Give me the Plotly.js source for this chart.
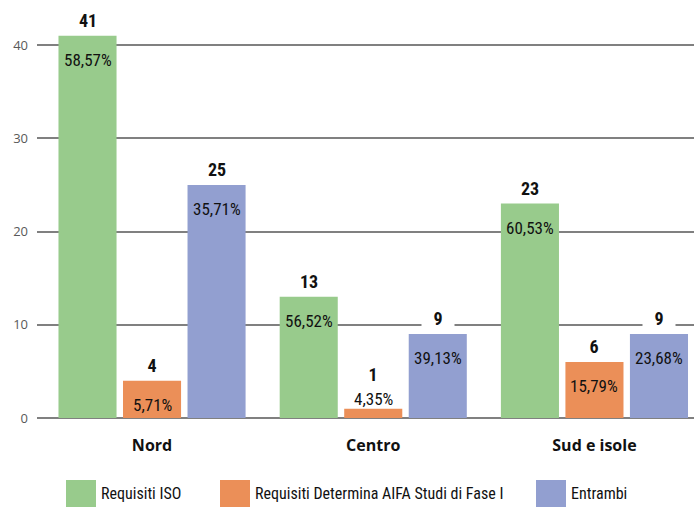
<!DOCTYPE html>
<html>
<head>
<meta charset="utf-8">
<script src="https://cdn.plot.ly/plotly-3.0.1.min.js"></script>
<style>html,body{margin:0;padding:0;background:#fff;}#chart{width:694px;height:507px;}</style>
</head>
<body>
<div id="chart"></div>
<script>
// ---- data ----
const categories = ["Nord", "Centro", "Sud e isole"];
const seriesNames = ["Requisiti ISO", "Requisiti Determina AIFA Studi di Fase I", "Entrambi"];
const isoValues = [41, 13, 23];
const aifaValues = [4, 1, 6];
const entrambiValues = [25, 9, 9];
const isoPct = ["58,57%", "56,52%", "60,53%"];
const aifaPct = ["5,71%", "4,35%", "15,79%"];
const entrambiPct = ["35,71%", "39,13%", "23,68%"];
const yTicks = [0, 10, 20, 30, 40];

// ---- style ----
const colors = ["#98CB8C", "#EB8F58", "#929FD0"];
const narrow = "Roboto Condensed";
const W = 694, H = 507;
const M = {l: 37, r: 0, t: 0, b: 89};
const yMax = 44.83;
const bargap = 0.125;
const plotH = H - M.t - M.b, plotW = W - M.l - M.r;
const pxPerUnit = plotH / yMax;

const values = [isoValues, aifaValues, entrambiValues];
const pcts = [isoPct, aifaPct, entrambiPct];

const traces = values.map((v, i) => ({
  type: "bar",
  name: seriesNames[i],
  x: categories,
  y: v,
  marker: {color: colors[i], line: {width: 0}},
  showlegend: false,
  hoverinfo: "x+y+name"
}));

const annotations = [];
const slot = (1 - bargap) / 3;
values.forEach((v, i) => {
  v.forEach((val, j) => {
    const xPos = j + (i - 1) * slot;
    const small = val * pxPerUnit < 20;
    annotations.push({
      x: xPos, y: val, xref: "x", yref: "y",
      text: pcts[i][j], showarrow: false,
      yanchor: "middle", yshift: small ? 10 : -24,
      font: {family: narrow, size: 17, color: "#111"}
    });
    annotations.push({
      x: xPos, y: val, xref: "x", yref: "y",
      text: "<b>" + val + "</b>", showarrow: false,
      yanchor: "middle", yshift: small ? 35 : 16,
      width: 30, height: 20, bgcolor: "#ffffff",
      font: {family: narrow, size: 18, color: "#111"}
    });
  });
});

// custom legend (large swatches)
const px2x = px => (px - M.l) / plotW;
const py2y = py => (H - M.b - py) / plotH;
const swatchLeft = [66, 220, 536];
const shapes = [];
seriesNames.forEach((name, i) => {
  shapes.push({
    type: "rect", xref: "paper", yref: "paper",
    x0: px2x(swatchLeft[i]), x1: px2x(swatchLeft[i] + 30),
    y0: py2y(508), y1: py2y(480),
    fillcolor: colors[i], line: {width: 0}
  });
  annotations.push({
    xref: "paper", yref: "paper",
    x: px2x(swatchLeft[i] + 33), y: py2y(493),
    xanchor: "left", yanchor: "middle",
    text: name, showarrow: false,
    font: {family: narrow, size: 16, color: "#111"}
  });
});

const layout = {
  width: W, height: H,
  margin: M,
  paper_bgcolor: "#fff", plot_bgcolor: "#fff",
  barmode: "group", bargap: bargap, bargroupgap: 0.1,
  showlegend: false,
  xaxis: {
    type: "category",
    range: [-0.52, 2.45],
    showgrid: false, zeroline: false, showline: false,
    ticks: "", ticklabelstandoff: 16,
    tickfont: {family: "Open Sans", size: 16, color: "#111", weight: "bold"},
    fixedrange: true
  },
  yaxis: {
    range: [0, yMax],
    tickvals: yTicks,
    showgrid: true, gridcolor: "#808080", gridwidth: 2,
    zeroline: true, zerolinecolor: "#808080", zerolinewidth: 2,
    showline: false, ticks: "", ticklabelstandoff: 8,
    tickfont: {family: "Open Sans", size: 13, color: "#595959"},
    fixedrange: true
  },
  annotations: annotations,
  shapes: shapes
};

Plotly.newPlot("chart", traces, layout, {displayModeBar: false, staticPlot: true});
</script>
</body>
</html>
